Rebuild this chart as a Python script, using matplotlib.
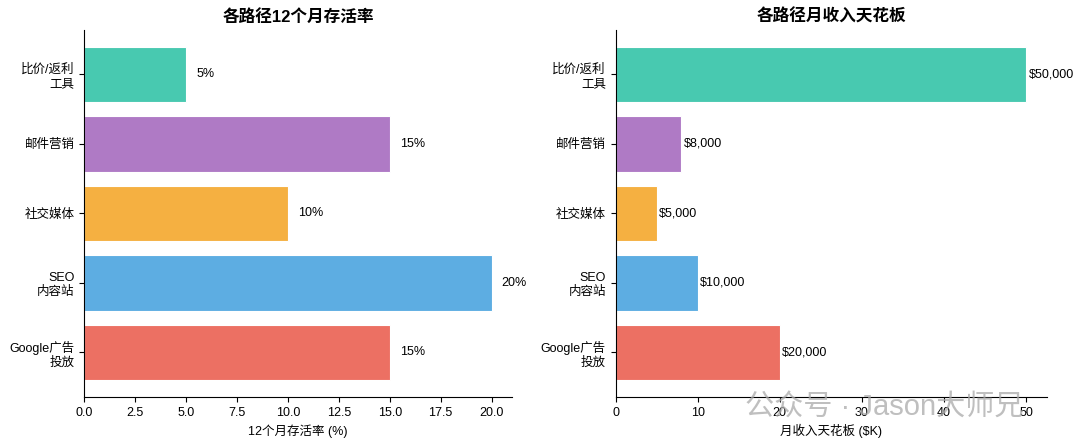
import matplotlib
matplotlib.use('Agg')
import matplotlib.pyplot as plt

plt.rcParams['font.family'] = ['Liberation Sans', 'Noto Sans CJK SC', 'DejaVu Sans']
plt.rcParams['axes.unicode_minus'] = False

# 数据
paths = ['Google广告\n投放', 'SEO\n内容站', '社交媒体', '邮件营销', '比价/返利\n工具']
survival = [15, 20, 10, 15, 5]            # 12个月存活率 %
income_k = [20, 10, 5, 8, 50]             # 月收入天花板 $K
colors = ['#EC7063', '#5DADE2', '#F5B041', '#AF7AC5', '#48C9B0']

fig = plt.figure(figsize=(10.8, 4.45), dpi=100)
ax1 = fig.add_axes([0.078, 0.108, 0.396, 0.825])
ax2 = fig.add_axes([0.570, 0.108, 0.399, 0.825])

# 左图：存活率
ax1.barh(paths, survival, color=colors, height=0.8, edgecolor='white', linewidth=0.8)
for i, v in enumerate(survival):
    ax1.text(v + 0.5, i, f'{v}%', va='center', ha='left', fontsize=9)
ax1.set_title('各路径12个月存活率', fontsize=12, fontweight='bold')
ax1.set_xlabel('12个月存活率 (%)', fontsize=9)

# 右图：收入天花板
ax2.barh(paths, income_k, color=colors, height=0.8, edgecolor='white', linewidth=0.8)
for i, v in enumerate(income_k):
    ax2.text(v + 0.3, i, f'${v * 1000:,}', va='center', ha='left', fontsize=9)
ax2.set_title('各路径月收入天花板', fontsize=12, fontweight='bold')
ax2.set_xlabel('月收入天花板 ($K)', fontsize=9)

for ax in (ax1, ax2):
    ax.spines['top'].set_visible(False)
    ax.spines['right'].set_visible(False)
    ax.tick_params(labelsize=9)

# 水印
fig.text(0.69, 0.065, '公众号 · Jason大师兄', fontsize=21, color='#aaaaaa', alpha=0.75)

fig.savefig('out.png', dpi=100)
